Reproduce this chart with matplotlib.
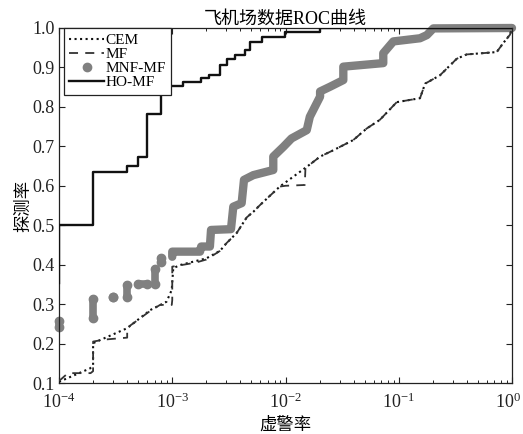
import numpy as np
import matplotlib
matplotlib.use("Agg")
import matplotlib.pyplot as plt
from matplotlib.lines import Line2D
from matplotlib.transforms import ScaledTranslation
from matplotlib.ticker import LogLocator, LogFormatterMathtext, FixedLocator, FormatStrFormatter, NullFormatter

plt.rcParams['font.family'] = ['Liberation Serif', 'Noto Sans CJK SC', 'DejaVu Sans']
plt.rcParams['mathtext.fontset'] = 'custom'
plt.rcParams['mathtext.rm'] = 'Liberation Serif'
plt.rcParams['mathtext.it'] = 'Liberation Serif:italic'
plt.rcParams['mathtext.bf'] = 'Liberation Serif:bold'

title = "飞机场数据ROC曲线"
xlabel = "虚警率"
ylabel = "探测率"
labels = ["CEM", "MF", "MNF-MF", "HO-MF"]
yticks = [0.1, 0.2, 0.3, 0.4, 0.5, 0.6, 0.7, 0.8, 0.9, 1.0]

# CEM (dotted)
cem_fa = [1e-4, 1.88e-4, 2e-4, 2e-4, 4e-4, 6.4e-4, 8.9e-4, 9.9e-4, 1.02e-3, 1.17e-3,
          2.0e-3, 2.64e-3, 3.0e-3, 3.7e-3, 4.55e-3, 5.2e-3, 5.9e-3, 8.9e-3, 1.54e-2,
          2.02e-2, 2.64e-2, 3.97e-2, 5.2e-2, 6.8e-2, 9.6e-2, 0.154, 0.171, 0.231,
          0.325, 0.398, 0.733, 0.838, 0.96, 1.0]
cem_pd = [0.103, 0.137, 0.145, 0.201, 0.239, 0.285, 0.306, 0.336, 0.391, 0.399,
          0.416, 0.435, 0.454, 0.480, 0.520, 0.534, 0.550, 0.598, 0.648,
          0.674, 0.690, 0.716, 0.745, 0.767, 0.812, 0.822, 0.859, 0.880,
          0.922, 0.933, 0.939, 0.962, 0.983, 1.0]

# MF (dashed)
mf_fa = [1e-4, 1.2e-4, 1.9e-4, 2e-4, 2e-4, 2.5e-4, 4e-4, 4e-4, 6.4e-4, 7.8e-4, 9.9e-4,
         1e-3, 1e-3, 1.6e-3, 2.0e-3, 2.64e-3, 3.0e-3, 3.7e-3, 4.55e-3, 5.2e-3, 5.9e-3,
         8.9e-3, 1.0e-2, 1.48e-2, 1.5e-2, 2.02e-2, 2.64e-2, 3.97e-2, 5.2e-2, 6.8e-2,
         9.6e-2, 0.154, 0.171, 0.231, 0.325, 0.398, 0.733, 0.838, 0.96, 1.0]
mf_pd = [0.105, 0.125, 0.125, 0.13, 0.205, 0.21, 0.215, 0.24, 0.283, 0.298, 0.298,
         0.31, 0.395, 0.405, 0.413, 0.435, 0.454, 0.480, 0.520, 0.534, 0.550,
         0.598, 0.600, 0.602, 0.645, 0.674, 0.690, 0.716, 0.745, 0.767,
         0.812, 0.822, 0.859, 0.880, 0.922, 0.933, 0.939, 0.962, 0.983, 1.0]

# MNF-MF (gray markers): isolated clusters at low false-alarm rates ...
nan = np.nan
mnf_fa_low = [1e-4, 1e-4, nan, 2e-4, 2e-4, nan, 3e-4, 3e-4, nan, 4e-4, 4e-4, nan,
              5e-4, 6e-4, nan, 7e-4, 7e-4, nan, 8e-4, 8e-4]
mnf_pd_low = [0.243, 0.256, nan, 0.264, 0.314, nan, 0.317, 0.317, nan, 0.319, 0.348, nan,
              0.351, 0.351, nan, 0.352, 0.390, nan, 0.408, 0.418]
# ... and a dense (continuous-looking) band above 1e-3
mnf_fa_high = [1e-3, 1e-3, 1.76e-3, 1.8e-3, 2.15e-3, 2.2e-3, 3.3e-3, 3.46e-3, 4.1e-3,
               4.3e-3, 5.2e-3, 7.8e-3, 7.8e-3, 9.6e-3, 1.13e-2, 1.54e-2, 1.64e-2, 2.02e-2,
               2.02e-2, 2.47e-2, 3.24e-2, 3.24e-2, 7.3e-2, 7.3e-2, 8.96e-2, 0.154, 0.177,
               0.202, 1.0]
mnf_pd_high = [0.420, 0.433, 0.433, 0.446, 0.446, 0.488, 0.490, 0.547, 0.556,
               0.615, 0.627, 0.640, 0.674, 0.699, 0.720, 0.741, 0.775, 0.826,
               0.839, 0.851, 0.868, 0.902, 0.911, 0.936, 0.966, 0.974, 0.982,
               0.999, 1.0]

# HO-MF (solid, step)
ho_fa = [1e-4, 1e-4, 2e-4, 4e-4, 5e-4, 6e-4, 8e-4, 1.25e-3, 1.8e-3, 2.1e-3, 2.64e-3,
         3.06e-3, 3.58e-3, 4.39e-3, 4.86e-3, 6.16e-3, 9.9e-3, 2.02e-2, 1.0]
ho_pd = [0.354, 0.500, 0.636, 0.649, 0.672, 0.782, 0.852, 0.863, 0.872, 0.882, 0.907,
         0.921, 0.931, 0.943, 0.965, 0.977, 0.990, 1.0, 1.0]

W, H = 523, 434
fig = plt.figure(figsize=(W / 100, H / 100), dpi=100)
ax = fig.add_axes([59 / W, 1 - 383 / H, 453 / W, 355 / H])

gray = '#808080'
ax.plot(mnf_fa_low, mnf_pd_low, color=gray, lw=5.5, marker='o', ms=6, mec=gray, mfc=gray,
        solid_capstyle='round', solid_joinstyle='round', clip_on=False, zorder=2)
ax.plot(mnf_fa_high, mnf_pd_high, color=gray, lw=6.0,
        solid_capstyle='round', solid_joinstyle='round', clip_on=False, zorder=2)
ax.plot(cem_fa, cem_pd, color='#111111', ls=':', lw=1.5, zorder=3)
ax.plot(mf_fa, mf_pd, color='#333333', lw=1.3, dashes=(5, 4), zorder=3)
ax.plot(ho_fa, ho_pd, color='#111111', lw=1.7, drawstyle='steps-post', zorder=4)

ax.set_xscale('log')
ax.set_xlim(1e-4, 1.0)
ax.set_ylim(0.1, 1.0)
ax.xaxis.set_major_locator(LogLocator(base=10, numticks=10))
ax.xaxis.set_major_formatter(LogFormatterMathtext())
ax.xaxis.set_minor_locator(LogLocator(base=10, subs=np.arange(2, 10), numticks=20))
ax.xaxis.set_minor_formatter(NullFormatter())
ax.yaxis.set_major_locator(FixedLocator(yticks))
ax.yaxis.set_major_formatter(FormatStrFormatter('%.1f'))

ax.tick_params(which='both', direction='in', top=True, right=True, labelsize=13, colors='#222222')
ax.tick_params(which='major', length=4, width=0.8, pad=3)
ax.tick_params(which='minor', length=2.5, width=0.7)
ax.tick_params(axis='x', which='major', pad=7)
for s in ax.spines.values():
    s.set_linewidth(0.9)
    s.set_color('#222222')

ax.set_title(title, fontsize=13, pad=3)
ax.set_xlabel(xlabel, fontsize=12.5, labelpad=4)
ax.set_ylabel(ylabel, fontsize=12.5, labelpad=0)

handles = [
    Line2D([], [], color='#111111', ls=':', lw=1.5),
    Line2D([], [], color='#333333', lw=1.3, dashes=(5, 4)),
    Line2D([], [], color=gray, ls='none', marker='o', ms=6),
    Line2D([], [], color='#111111', lw=1.7),
]
leg = ax.legend(handles, labels, loc='upper left', bbox_to_anchor=(0.011, 1.0),
                borderaxespad=0, fontsize=11, handlelength=2.3, handletextpad=0.05,
                labelspacing=0.03, borderpad=0.35, fancybox=False, framealpha=1,
                edgecolor='#222222')
leg.get_frame().set_linewidth(0.9)

fig.canvas.draw()
ticks = ax.xaxis.get_major_ticks()
locs = ax.xaxis.get_majorticklocs()
for t, loc in zip(ticks, locs):
    if abs(loc - 1.0) < 1e-9:
        t.label1.set_transform(t.label1.get_transform() + ScaledTranslation(-3 / 72, 0, fig.dpi_scale_trans))

fig.savefig('out.png', dpi=100)
